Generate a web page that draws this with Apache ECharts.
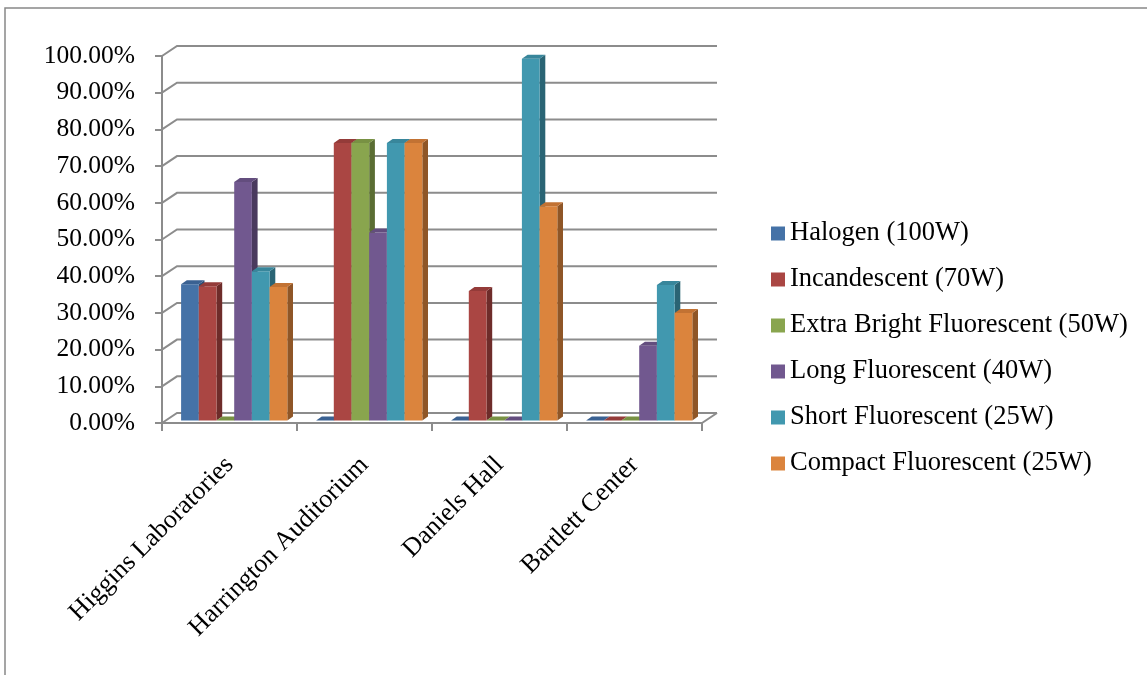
<!DOCTYPE html>
<html>
<head>
<meta charset="utf-8">
<script src="https://cdn.jsdelivr.net/npm/echarts@6/dist/echarts.min.js"></script>
<style>
html,body{margin:0;padding:0;background:#fff;}
#chart{width:1147px;height:675px;}
</style>
</head>
<body>
<div id="chart"></div>
<script>
const categories = ['Higgins Laboratories', 'Harrington Auditorium', 'Daniels Hall', 'Bartlett Center'];
const seriesNames = ['Halogen (100W)', 'Incandescent (70W)', 'Extra Bright Fluorescent (50W)', 'Long Fluorescent (40W)', 'Short Fluorescent (25W)', 'Compact Fluorescent (25W)'];
const halogen = [0.371, 0, 0, 0];
const incandescent = [0.366, 0.756, 0.353, 0];
const extraBright = [0, 0.756, 0, 0];
const longFluorescent = [0.650, 0.512, 0, 0.204];
const shortFluorescent = [0.407, 0.756, 0.986, 0.369];
const compactFluorescent = [0.364, 0.756, 0.584, 0.293];
const yTicks = [0, 0.1, 0.2, 0.3, 0.4, 0.5, 0.6, 0.7, 0.8, 0.9, 1.0];

const seriesValues = [halogen, incandescent, extraBright, longFluorescent, shortFluorescent, compactFluorescent];
const frontColors = ['#4572A7', '#AA4643', '#89A54E', '#71588F', '#4198AF', '#DB843D'];
const sideColors  = ['#2E4D73', '#6E2C2A', '#5A6D33', '#4A3A5E', '#2A6474', '#8F5627'];
const topColors   = ['#3A6192', '#943B39', '#789143', '#634D7E', '#38869B', '#C27233'];

const FONT = "'Liberation Serif', 'Times New Roman', serif";
const WALL_DX = 15, WALL_DY = -10;
const BAR_W = 17.7, BAR_SHIFT_X = 4.7, BAR_SHIFT_Y = -2.5, DEPTH_X = 5.7, DEPTH_Y = -4;
const GRID_COLOR = '#8c8c8c';

const chart = echarts.init(document.getElementById('chart'), null, {renderer: 'canvas'});

function wallRender(params, api) {
  const cs = params.coordSys;
  const v = api.value(1);
  const y = api.coord([0, v])[1];
  const left = cs.x, right = cs.x + cs.width;
  const children = [{
    type: 'polyline',
    shape: {points: [[left, y], [left + WALL_DX, y + WALL_DY], [right + WALL_DX, y + WALL_DY]]},
    style: {stroke: GRID_COLOR, lineWidth: 2, fill: null}
  }];
  if (v === 0) {
    children.push({
      type: 'line',
      shape: {x1: right, y1: y, x2: right + WALL_DX, y2: y + WALL_DY},
      style: {stroke: GRID_COLOR, lineWidth: 2}
    });
  }
  return {type: 'group', children: children};
}

function makeBarRender(sIdx) {
  return function (params, api) {
    const ci = api.value(0);
    const v = api.value(1);
    const base = api.coord([ci, 0]);
    const topP = api.coord([ci, v]);
    const n = seriesValues.length;
    const x0 = base[0] - n * BAR_W / 2 + sIdx * BAR_W + BAR_SHIFT_X;
    const x1 = x0 + BAR_W;
    const yb = base[1] + BAR_SHIFT_Y;
    const yt = topP[1] + BAR_SHIFT_Y;
    const children = [];
    if (yb - yt > 0.5) {
      children.push({
        type: 'polygon',
        shape: {points: [[x1, yb], [x1 + DEPTH_X, yb + DEPTH_Y], [x1 + DEPTH_X, yt + DEPTH_Y], [x1, yt]]},
        style: {fill: sideColors[sIdx]}
      });
      children.push({
        type: 'rect',
        shape: {x: x0, y: yt, width: BAR_W, height: yb - yt},
        style: {fill: frontColors[sIdx]}
      });
    }
    children.push({
      type: 'polygon',
      shape: {points: [[x0, yt], [x1, yt], [x1 + DEPTH_X, yt + DEPTH_Y], [x0 + DEPTH_X, yt + DEPTH_Y]]},
      style: {fill: topColors[sIdx]}
    });
    return {type: 'group', children: children};
  };
}

const series = [{
  type: 'custom',
  name: '_wall',
  silent: true,
  z: 1,
  renderItem: wallRender,
  data: yTicks.map(function (t) { return [0, t]; })
}];

seriesValues.forEach(function (vals, i) {
  series.push({
    type: 'custom',
    name: seriesNames[i],
    z: 2 + i,
    itemStyle: {color: frontColors[i]},
    renderItem: makeBarRender(i),
    data: vals.map(function (v, ci) { return [ci, v]; })
  });
});

chart.setOption({
  animation: false,
  color: frontColors,
  graphic: [{
    type: 'rect',
    shape: {x: 5, y: 8, width: 1200, height: 700},
    style: {fill: null, stroke: '#888', lineWidth: 1.5},
    z: 0
  }],
  grid: {left: 162, right: 445, top: 56, bottom: 252, containLabel: false},
  legend: {
    orient: 'vertical',
    left: 766,
    top: 215,
    itemWidth: 14,
    itemHeight: 14,
    itemGap: 19,
    icon: 'rect',
    data: seriesNames,
    textStyle: {fontFamily: FONT, fontSize: 26.5, color: '#000'}
  },
  xAxis: {
    type: 'category',
    data: categories,
    boundaryGap: true,
    axisLine: {show: true, lineStyle: {color: GRID_COLOR, width: 2}},
    axisTick: {show: true, length: 8, lineStyle: {color: GRID_COLOR, width: 2}},
    axisLabel: {interval: 0, rotate: 45, margin: 38, fontFamily: FONT, fontSize: 26, color: '#000'},
    splitLine: {show: false}
  },
  yAxis: {
    type: 'value',
    min: 0,
    max: 1,
    interval: 0.1,
    axisLine: {show: true, lineStyle: {color: GRID_COLOR, width: 2}},
    axisTick: {show: true, length: 7, lineStyle: {color: GRID_COLOR, width: 2}},
    axisLabel: {
      margin: 27,
      fontFamily: FONT,
      fontSize: 25.5,
      color: '#000',
      formatter: function (v) { return (v * 100).toFixed(2) + '%'; }
    },
    splitLine: {show: false}
  },
  series: series
});
</script>
</body>
</html>
